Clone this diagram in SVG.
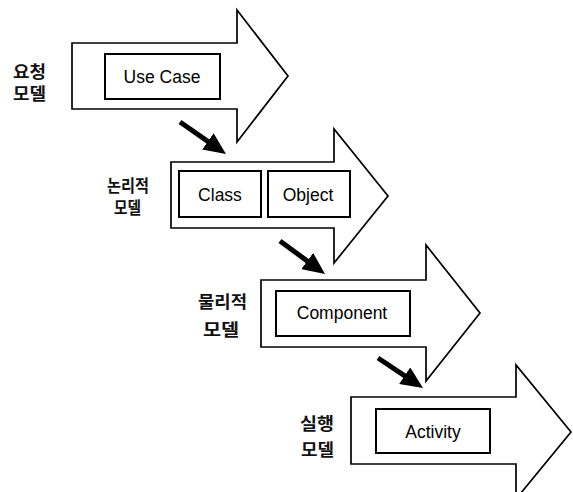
<svg xmlns="http://www.w3.org/2000/svg" width="573" height="492" viewBox="0 0 573 492">
<style>
.big{fill:#fff;stroke:#000;stroke-width:1.7;stroke-linejoin:miter}
.box{fill:#fff;stroke:#000;stroke-width:2}
.t{font-family:"Liberation Sans",Arial,sans-serif;font-size:17.5px;fill:#000;text-anchor:middle;dominant-baseline:central}
.k{font-family:"Noto Sans CJK KR","Noto Sans",sans-serif;font-size:16.5px;font-weight:bold;fill:#111;dominant-baseline:central}
.c{stroke:#000;stroke-width:5;fill:none}
</style>
<defs>
<marker id="ah" viewBox="0 0 22 20" refX="10" refY="10" markerWidth="22" markerHeight="20" markerUnits="userSpaceOnUse" orient="auto">
<path d="M0,0 L22,10 L0,20 Z" fill="#000"/>
</marker>
</defs>
<rect width="573" height="492" fill="#fff"/>
<g id="node-request">
<path class="big" d="M72,43 H237 V10 L288,76 L237,142 V109 H72 Z"/>
<rect class="box" x="105" y="54" width="115" height="45"/>
<text class="t" x="162" y="77">Use Case</text>
<text class="k" x="13" y="71" textLength="33" lengthAdjust="spacingAndGlyphs">요청</text>
<text class="k" x="13" y="93" textLength="33" lengthAdjust="spacingAndGlyphs">모델</text>
</g>
<g id="node-logical">
<path class="big" d="M171,162 H334 V129 L388,196 L334,263 V228 H171 Z"/>
<rect class="box" x="179" y="171" width="82" height="46"/>
<text class="t" x="220" y="195">Class</text>
<rect class="box" x="268" y="171" width="82" height="46"/>
<text class="t" x="308" y="195">Object</text>
<text class="k" x="107" y="185" textLength="42" lengthAdjust="spacingAndGlyphs">논리적</text>
<text class="k" x="114" y="207" textLength="27" lengthAdjust="spacingAndGlyphs">모델</text>
</g>
<g id="node-physical">
<path class="big" d="M261,280 H426 V245 L480,313 L426,381 V347 H261 Z"/>
<rect class="box" x="276" y="291" width="134" height="45"/>
<text class="t" x="342" y="313">Component</text>
<text class="k" x="198" y="301" textLength="49" lengthAdjust="spacingAndGlyphs">물리적</text>
<text class="k" x="203" y="329" textLength="36" lengthAdjust="spacingAndGlyphs">모델</text>
</g>
<g id="node-execution">
<path class="big" d="M351,397 H516 V365 L571,432 L516,499 V464 H351 Z"/>
<rect class="box" x="376" y="409" width="114" height="44"/>
<text class="t" x="433" y="432">Activity</text>
<text class="k" x="300" y="423" textLength="34" lengthAdjust="spacingAndGlyphs">실행</text>
<text class="k" x="301" y="449" textLength="33" lengthAdjust="spacingAndGlyphs">모델</text>
</g>
<g id="connectors">
<line class="c" x1="180" y1="122" x2="216.1" y2="147.1" marker-end="url(#ah)"/>
<line class="c" x1="280" y1="241" x2="315.3" y2="266.9" marker-end="url(#ah)"/>
<line class="c" x1="378" y1="358" x2="413" y2="381.3" marker-end="url(#ah)"/>
</g>
</svg>
